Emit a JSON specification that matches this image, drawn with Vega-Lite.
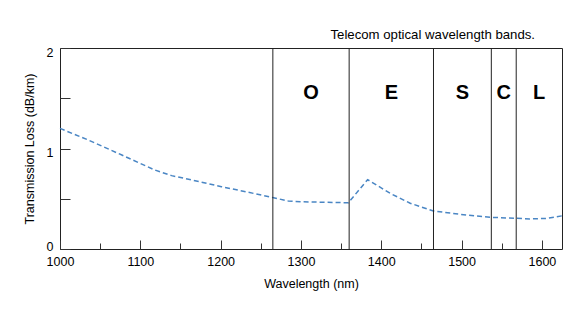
{
  "$schema": "https://vega.github.io/schema/vega-lite/v6.json",
  "width": 502,
  "height": 201,
  "autosize": "none",
  "padding": {"left": 60, "top": 48, "right": 19, "bottom": 62},
  "config": {
    "font": "Liberation Sans",
    "view": {"stroke": "#222", "strokeWidth": 1},
    "axis": {"labelFontSize": 12.5, "labelColor": "#000", "titleFontSize": 12.5, "titleFontWeight": "normal", "titleColor": "#000", "tickColor": "#333", "grid": false, "domain": false, "labelFlush": false, "labelOverlap": false}
  },
  "title": {"text": "Telecom optical wavelength bands.", "anchor": "end", "dx": -30, "fontSize": 13.2, "fontWeight": "normal", "color": "#000", "offset": 4},
  "datasets": {
    "loss": [
      {"wavelength": 1000, "loss": 1.2},
      {"wavelength": 1035, "loss": 1.085},
      {"wavelength": 1077, "loss": 0.935},
      {"wavelength": 1118, "loss": 0.786},
      {"wavelength": 1139, "loss": 0.73},
      {"wavelength": 1160, "loss": 0.694},
      {"wavelength": 1201, "loss": 0.62},
      {"wavelength": 1243, "loss": 0.55},
      {"wavelength": 1266, "loss": 0.51},
      {"wavelength": 1284, "loss": 0.478},
      {"wavelength": 1300, "loss": 0.47},
      {"wavelength": 1359, "loss": 0.46},
      {"wavelength": 1383, "loss": 0.69},
      {"wavelength": 1411, "loss": 0.554},
      {"wavelength": 1436, "loss": 0.455},
      {"wavelength": 1465, "loss": 0.378},
      {"wavelength": 1506, "loss": 0.338},
      {"wavelength": 1537, "loss": 0.315},
      {"wavelength": 1569, "loss": 0.305},
      {"wavelength": 1585, "loss": 0.299},
      {"wavelength": 1606, "loss": 0.305},
      {"wavelength": 1625, "loss": 0.33}
    ],
    "bands": [
      {"band": "O", "start": 1265, "end": 1360},
      {"band": "E", "start": 1360, "end": 1465},
      {"band": "S", "start": 1465, "end": 1537},
      {"band": "C", "start": 1537, "end": 1568},
      {"band": "L", "start": 1568, "end": 1625}
    ]
  },
  "layer": [
    {
      "data": {"name": "loss"},
      "mark": {"type": "line", "color": "#4a86c4", "strokeDash": [5, 3], "strokeWidth": 1.5},
      "encoding": {
        "x": {
          "field": "wavelength", "type": "quantitative",
          "scale": {"domain": [1000, 1625], "nice": false, "zero": false},
          "axis": {
            "title": "Wavelength (nm)",
            "values": [1000, 1050, 1100, 1150, 1200, 1250, 1300, 1350, 1400, 1450, 1500, 1550, 1600],
            "format": "d",
            "labelExpr": "datum.value % 100 === 0 ? datum.label : ''",
            "tickSize": {"condition": {"test": "datum.value % 100 === 0", "value": -9}, "value": -6},
            "labelPadding": 15,
            "titlePadding": 7
          }
        },
        "y": {
          "field": "loss", "type": "quantitative",
          "scale": {"domain": [0, 2], "nice": false},
          "axis": {
            "title": "Transmission Loss (dB/km)",
            "values": [0, 0.5, 1, 1.5, 2],
            "labelExpr": "datum.value === 0 ? '0' : datum.value === 1 ? '1' : datum.value === 2 ? '2' : ''",
            "labelOffset": {"condition": {"test": "datum.value === 0", "value": -3}, "value": 4},
            "tickSize": -10,
            "labelPadding": 17,
            "titlePadding": 10
          }
        }
      }
    },
    {
      "data": {"name": "bands"},
      "mark": {"type": "rule", "color": "#222", "strokeWidth": 1},
      "encoding": {"x": {"field": "start", "type": "quantitative"}}
    },
    {
      "data": {"name": "bands"},
      "transform": [{"calculate": "(datum.start + datum.end) / 2", "as": "mid"}],
      "mark": {"type": "text", "fontSize": 20, "fontWeight": "bold", "baseline": "middle", "align": "center", "color": "#000"},
      "encoding": {
        "x": {"field": "mid", "type": "quantitative"},
        "y": {"datum": 1.55},
        "text": {"field": "band"}
      }
    }
  ]
}
